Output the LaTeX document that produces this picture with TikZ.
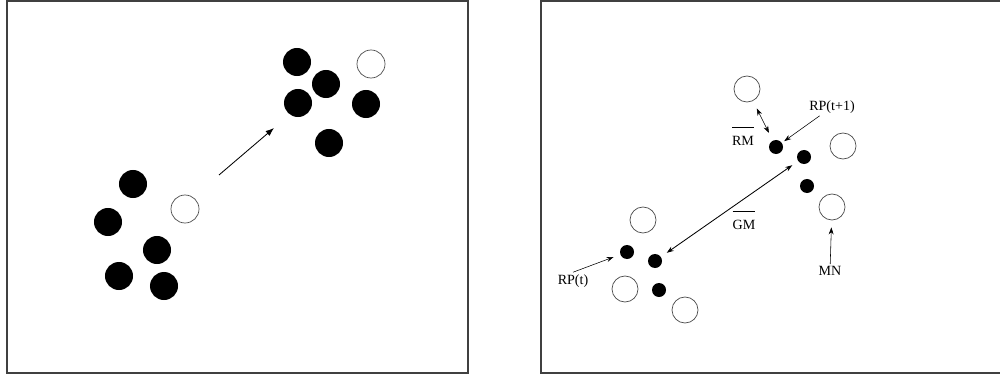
\documentclass[tikz,border=0pt]{standalone}
\usepackage{fontspec}
\setmainfont{Liberation Serif}
\usetikzlibrary{arrows.meta}

\tikzset{
	ball/.style={circle, fill=black, inner sep=0pt, minimum size=0.7cm},
	hole/.style={circle, draw=black!70, line width=0.5pt, inner sep=0pt, minimum size=0.7cm},
	dot/.style={circle, fill=black, inner sep=0pt, minimum size=0.35cm},
	ring/.style={circle, draw=black!70, line width=0.5pt, inner sep=0pt, minimum size=0.65cm},
	lbl/.style={font=\fontsize{10}{11}\selectfont, inner sep=1.5pt},
	ptr/.style={line width=0.4pt, -{Stealth[length=5pt,width=3.5pt]}},
	both/.style={line width=0.4pt, {Stealth[length=5pt,width=3.5pt]}-{Stealth[length=5pt,width=3.5pt]}},
	frame/.style={draw=black!75, line width=0.8pt}
}
\newcommand{\barlabel}[1]{$\overline{\mbox{\rule{0pt}{11pt}#1}}$}

\begin{document}
\begin{tikzpicture}[x=0.025cm, y=-0.025cm]
\useasboundingbox (0,0) rectangle (1000,374);

% panels
\draw[frame] (7,1) rectangle (468,373);
\draw[frame] (541,1) rectangle (1002,373);

%swarm at t
\node[ball] (a1) at (133,184) {};
\node[ball] (a2) at (108,222) {};
\node[ball] (a3) at (157,250) {};
\node[ball] (a4) at (119,276) {};
\node[ball] (a5) at (164,286) {};
\node[hole] (a6) at (185,209) {};

%swarm at t+1
\node[ball] (b1) at (297,62) {};
\node[ball] (b2) at (326,84) {};
\node[ball] (b3) at (298,103) {};
\node[ball] (b4) at (366,104) {};
\node[ball] (b5) at (329,143) {};
\node[hole] (b6) at (371,64) {};

%move
\coordinate (start) at (219,175);
\coordinate (stop) at (274,128);
\draw[line width=0.6pt, -{Latex[length=6pt,width=4.5pt]}] (start) -- (stop);

%members
\node[ring] (m1) at (747,89) {};
\node[ring] (m2) at (843,146) {};
\node[ring] (m3) at (832,207) {};
\node[ring] (m4) at (643,220) {};
\node[ring] (m5) at (625,289) {};
\node[ring] (m6) at (685,310) {};

%reference points
\node[dot] (p1) at (776,147) {};
\node[dot] (p2) at (804,157) {};
\node[dot] (p3) at (807,186) {};
\node[dot] (q1) at (627,252) {};
\node[dot] (q2) at (655,261) {};
\node[dot] (q3) at (659,290) {};

%labels
\node[lbl] (rm) at (743,136) {\barlabel{RM}};
\node[lbl] (rpnext) at (832,107) {RP(t+1)};
\node[lbl] (gm) at (744,220) {\barlabel{GM}};
\node[lbl] (mn) at (830,271) {MN};
\node[lbl] (rpnow) at (573,281) {RP(t)};

%pointers
\draw[both, shorten <=6pt, shorten >=6pt] (m1) -- (p1);
\draw[ptr, shorten >=2pt] (rpnext) -- (p1);
\draw[both, line width=0.6pt, shorten <=5pt, shorten >=5pt] (p2) -- (q2);
\draw[ptr, shorten >=5pt] (mn) -- (m3);
\draw[ptr, shorten >=5pt] (rpnow.north) -- (q1);
\end{tikzpicture}
\end{document}
